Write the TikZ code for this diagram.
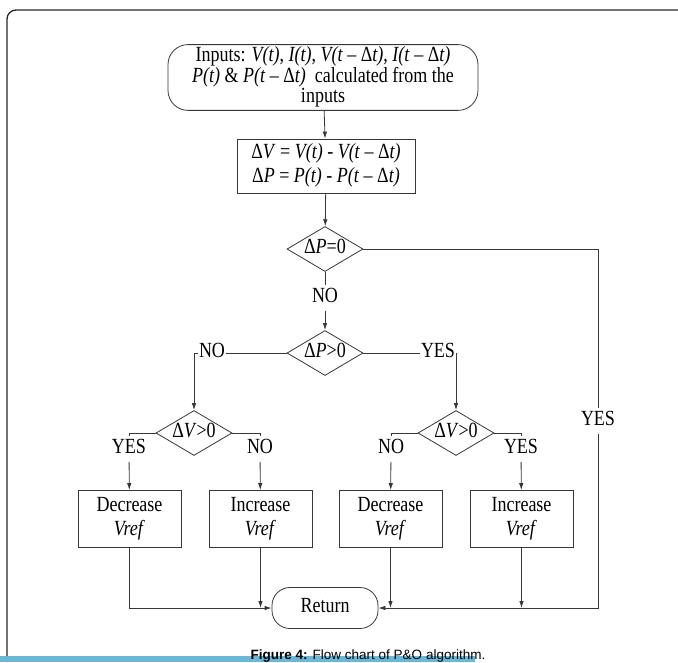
\documentclass[tikz,border=0pt]{standalone}
\usepackage{fontspec}
\setmainfont{Liberation Serif}
\newfontfamily\capfont{Liberation Sans}
\usetikzlibrary{shapes.geometric,arrows.meta}
\definecolor{linegray}{RGB}{55,55,55}
\definecolor{barblue}{RGB}{107,183,214}
\tikzset{
  flowfont/.style={font=\fontsize{18}{19.5}\selectfont},
  flowline/.style={draw=linegray, line width=0.8pt},
  arrowline/.style={flowline, -{Latex[length=7pt,width=4.5pt]}},
  terminal/.style={flowfont, draw=linegray, line width=0.8pt, rectangle, rounded corners=20pt, align=center, inner sep=2pt},
  process/.style={flowfont, draw=linegray, line width=0.8pt, rectangle, align=center, inner sep=2pt},
  decision/.style={flowfont, draw=linegray, line width=0.8pt, diamond, shape aspect=1.7, inner sep=-3pt, minimum width=76pt, minimum height=45pt},
  answer/.style={flowfont, fill=white, inner sep=1pt},
}
\newcommand{\vreftext}{\textit{Vref}}
% glyphs in the figure are taller than wide
\newcommand{\stretched}[1]{\scalebox{1}[1.2]{\begin{tabular}{@{}c@{}}#1\end{tabular}}}

\begin{document}
\begin{tikzpicture}[x=1pt,y=-1pt]
  %%%%% START %%%%%
  \useasboundingbox (0,0) rectangle (678,662);

  % page frame and caption bar
  \draw[black!85, line width=1.3pt, rounded corners=9pt] (7,662) -- (7,10) -- (678,10);
  \fill[barblue] (0,656) rectangle (475,662);
  \node[font=\capfont\fontsize{13.5}{14}\selectfont, anchor=base, inner sep=0pt] (caption) at (368,659.5)
    {\textbf{Figure 4:} Flow chart of P\&O algorithm.};

  % blocks
  \node[terminal, font=\fontsize{18}{16}\selectfont, minimum width=310pt, minimum height=59pt] (inputs) at (323,77.5)
    {\stretched{Inputs: \textit{V(t)}, \textit{I(t)}, \textit{V(t} -- Δ\textit{t)}, \textit{I(t} -- Δ\textit{t)}\\
     \textit{P(t)} \& \textit{P(t} -- Δ\textit{t)}\ \ calculated from the\\
     inputs}};
  \node[process, minimum width=178pt, minimum height=54pt] (deltas) at (326,166)
    {\stretched{Δ\textit{V} = \textit{V(t)} - \textit{V(t} -- Δ\textit{t)}\\
     Δ\textit{P} = \textit{P(t)} - \textit{P(t} -- Δ\textit{t)}}};

  \node[decision] (dpzero) at (325,249) {\stretched{Δ\textit{P}=0}};
  \node[answer] (nozero) at (325,298) {\stretched{NO}};
  \node[decision] (dppos) at (325,353) {\stretched{Δ\textit{P}>0}};
  \node[answer] (noleft) at (212,353) {\stretched{NO}};
  \node[answer] (yesright) at (438,353) {\stretched{YES}};

  \node[decision] (dvleft) at (194,433) {\stretched{Δ\textit{V}>0}};
  \node[decision] (dvright) at (456,433) {\stretched{Δ\textit{V}>0}};
  \node[answer] (yesa) at (129,449) {\stretched{YES}};
  \node[answer] (noa) at (260,449) {\stretched{NO}};
  \node[answer] (nob) at (391,449) {\stretched{NO}};
  \node[answer] (yesb) at (521,449) {\stretched{YES}};
  \node[answer] (yesfar) at (598,421) {\stretched{YES}};

  \node[process, minimum width=103pt, minimum height=57pt] (deca) at (129.5,519) {\stretched{Decrease\\ \vreftext}};
  \node[process, minimum width=103pt, minimum height=57pt] (inca) at (260.5,519) {\stretched{Increase\\ \vreftext}};
  \node[process, minimum width=103pt, minimum height=57pt] (decb) at (390.5,519) {\stretched{Decrease\\ \vreftext}};
  \node[process, minimum width=103pt, minimum height=57pt] (incb) at (521.5,519) {\stretched{Increase\\ \vreftext}};

  \node[terminal, rounded corners=18pt, minimum width=106pt, minimum height=41pt] (return) at (325,608) {\stretched{Return}};

  % connectors
  \draw[arrowline] (inputs) -- (deltas);
  \draw[arrowline] (deltas) -- (dpzero);
  \draw[flowline] (dpzero) -- (nozero);
  \draw[arrowline] (nozero) -- (dppos);
  \draw[flowline] (dppos) -- (noleft);
  \draw[flowline] (dppos) -- (yesright);
  \draw[arrowline] (noleft.west) -| (dvleft.north);
  \draw[arrowline] (yesright.east) -| (dvright.north);

  \draw[flowline] (dvleft.west) -| (yesa.north);
  \draw[flowline] (dvleft.east) -| (noa.north);
  \draw[flowline] (dvright.west) -| (nob.north);
  \draw[flowline] (dvright.east) -| (yesb.north);
  \draw[arrowline] (yesa) -- (deca);
  \draw[arrowline] (noa) -- (inca);
  \draw[arrowline] (nob) -- (decb);
  \draw[arrowline] (yesb) -- (incb);

  \draw[flowline] (dpzero.east) -| (yesfar.north);
  \draw[arrowline] (yesfar.south) |- (return.east);
  \draw[arrowline] (deca.south) |- (return.west);
  \draw[arrowline] (inca.south) -- (inca.south |- return.west);
  \draw[arrowline] (decb.south) -- (decb.south |- return.east);
  \draw[arrowline] (incb.south) -- (incb.south |- return.east);
  %%%%% END %%%%%
\end{tikzpicture}
\end{document}
